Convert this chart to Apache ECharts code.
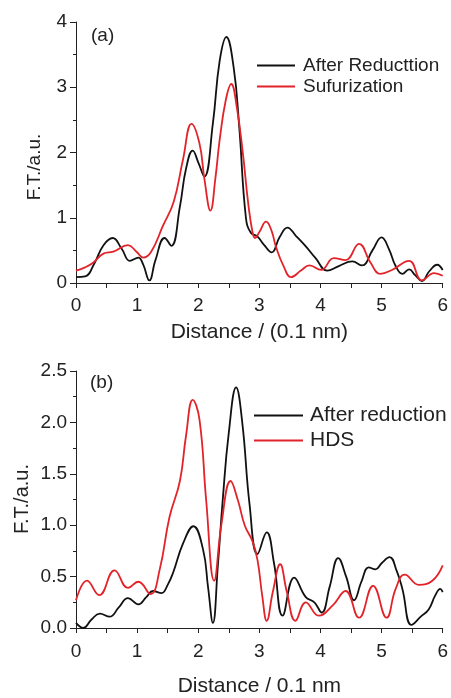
<!DOCTYPE html>
<html>
<head>
    <meta charset="utf-8">
    <title>F.T. curves</title>
    <script src="https://cdn.jsdelivr.net/npm/echarts@6/dist/echarts.min.js"></script>
    <style>
        html, body { margin: 0; padding: 0; background: #fff; }
        #main { width: 451px; height: 698px; }
    </style>
</head>
<body>
<div id="main"></div>
<script type="text/javascript">
    // 数据 (x = distance / 0.1 nm, y = F.T.)
    var xTicks = [0, 1, 2, 3, 4, 5, 6];
    var yTicksA = [0, 1, 2, 3, 4];
    var yTicksB = [0, 0.5, 1.0, 1.5, 2.0, 2.5];

    var reductionA = [[0,0.09],[0.15,0.1],[0.3,0.3],[0.45,0.58],[0.6,0.69],[0.75,0.52],[0.88,0.34],[1.02,0.39],[1.1,0.28],
        [1.2,0.04],[1.3,0.35],[1.45,0.69],[1.56,0.57],[1.7,1.17],[1.8,1.75],[1.91,2.03],[2.0,1.85],[2.1,1.63],[2.24,2.45],
        [2.35,3.4],[2.46,3.77],[2.58,3.3],[2.67,2.4],[2.78,1.0],[2.86,0.77],[2.97,0.71],[3.08,0.58],[3.2,0.47],[3.33,0.7],
        [3.46,0.85],[3.6,0.72],[3.76,0.56],[3.92,0.38],[4.11,0.19],[4.3,0.26],[4.52,0.33],[4.68,0.27],[4.85,0.5],[5.0,0.70],
        [5.12,0.52],[5.23,0.26],[5.34,0.14],[5.45,0.21],[5.55,0.12],[5.66,0.03],[5.78,0.18],[5.91,0.28],[6.0,0.20]];

    var sulfideA = [[0,0.19],[0.15,0.24],[0.28,0.31],[0.45,0.45],[0.61,0.48],[0.85,0.58],[0.99,0.48],[1.1,0.39],[1.23,0.48],
        [1.42,0.87],[1.6,1.25],[1.75,1.89],[1.89,2.44],[2.02,2.14],[2.1,1.6],[2.2,1.11],[2.28,1.6],[2.35,2.19],[2.45,2.8],
        [2.54,3.05],[2.63,2.7],[2.73,1.99],[2.82,1.2],[2.89,0.77],[2.93,0.69],[3.0,0.78],[3.11,0.94],[3.2,0.8],[3.27,0.56],
        [3.4,0.25],[3.52,0.09],[3.68,0.19],[3.82,0.27],[4.01,0.20],[4.22,0.38],[4.41,0.35],[4.63,0.60],[4.82,0.31],
        [4.98,0.14],[5.17,0.20],[5.45,0.34],[5.66,0.04],[5.86,0.15],[6.0,0.11]];

    var reductionB = [[0,0.05],[0.12,0.0],[0.25,0.08],[0.39,0.14],[0.55,0.11],[0.7,0.2],[0.85,0.29],[1.02,0.23],[1.15,0.3],
        [1.26,0.36],[1.40,0.34],[1.5,0.42],[1.59,0.54],[1.75,0.82],[1.92,0.99],[2.08,0.76],[2.16,0.4],[2.24,0.05],[2.32,0.6],
        [2.40,1.24],[2.5,1.9],[2.62,2.34],[2.72,2.0],[2.84,1.2],[2.97,0.72],[3.12,0.93],[3.24,0.63],[3.38,0.12],[3.57,0.49],
        [3.76,0.30],[3.90,0.25],[4.02,0.15],[4.15,0.4],[4.29,0.68],[4.42,0.5],[4.55,0.27],[4.67,0.45],[4.79,0.59],[4.90,0.57],
        [5.0,0.63],[5.13,0.69],[5.25,0.55],[5.34,0.38],[5.49,0.03],[5.64,0.11],[5.77,0.18],[5.88,0.32],[5.96,0.38],[6.0,0.35]];

    var hdsB = [[0,0.27],[0.18,0.46],[0.38,0.32],[0.63,0.56],[0.85,0.39],[1.02,0.45],[1.22,0.33],[1.37,0.57],[1.53,1.08],
        [1.70,1.43],[1.80,1.87],[1.91,2.22],[2.02,2.03],[2.13,1.24],[2.26,0.46],[2.38,1.01],[2.53,1.43],[2.65,1.24],
        [2.76,1.0],[2.89,0.84],[2.97,0.66],[3.05,0.3],[3.12,0.07],[3.22,0.35],[3.34,0.62],[3.45,0.35],[3.59,0.07],
        [3.76,0.25],[3.97,0.12],[4.20,0.22],[4.41,0.36],[4.63,0.10],[4.86,0.41],[5.08,0.10],[5.23,0.38],[5.38,0.52],
        [5.61,0.42],[5.83,0.46],[6.0,0.61]];

    var font = 'Liberation Sans, Arial, Helvetica, sans-serif';
    var ink = '#222';
    var black = '#111';
    var red = '#e2232a';

    function xAxisFor(gridIndex, name, labelMargin, nameGap) {
        return {
            type: 'value', gridIndex: gridIndex, min: 0, max: 6, interval: 1,
            name: name, nameLocation: 'middle', nameGap: nameGap,
            nameTextStyle: { fontFamily: font, fontSize: 21, color: ink },
            axisLine: { show: true, lineStyle: { color: ink, width: 1 } },
            axisTick: { show: true, inside: false, length: 5, lineStyle: { color: ink } },
            minorTick: { show: true, splitNumber: 2, length: 5, lineStyle: { color: ink } },
            axisLabel: {
                margin: labelMargin, fontFamily: font, fontSize: 19, color: ink,
                formatter: function (v) { return xTicks.indexOf(v) >= 0 ? String(v) : ''; }
            },
            splitLine: { show: false }
        };
    }

    function yAxisFor(gridIndex, max, interval, ticks, digits) {
        return {
            type: 'value', gridIndex: gridIndex, min: 0, max: max, interval: interval,
            axisLine: { show: true, lineStyle: { color: ink, width: 1 } },
            axisTick: { show: true, inside: false, length: 6, lineStyle: { color: ink } },
            minorTick: { show: true, splitNumber: 2, length: 3, lineStyle: { color: ink } },
            axisLabel: {
                margin: 9, fontFamily: font, fontSize: 19, color: ink,
                formatter: function (v) { return ticks.indexOf(v) >= 0 ? v.toFixed(digits) : ''; }
            },
            splitLine: { show: false }
        };
    }

    function lineSeries(name, data, color, idx) {
        return {
            name: name, type: 'line', data: data, xAxisIndex: idx, yAxisIndex: idx,
            smooth: 0.45, symbol: 'none', clip: true,
            lineStyle: { color: color, width: 1.8 }, itemStyle: { color: color }
        };
    }

    var myChart = echarts.init(document.getElementById('main'), null, { renderer: 'canvas' });
    var option = {
        backgroundColor: '#fff',
        animation: false,
        grid: [
            { left: 76, top: 22, width: 368, height: 261 },
            { left: 76, top: 371, width: 368, height: 261 }
        ],
        xAxis: [
            xAxisFor(0, 'Distance / (0.1 nm)', 13, 39),
            xAxisFor(1, 'Distance / 0.1 nm', 14, 48)
        ],
        yAxis: [
            yAxisFor(0, 4, 1, yTicksA, 0),
            yAxisFor(1, 2.5, 0.5, yTicksB, 1)
        ],
        legend: [
            {
                left: 257, top: 56, orient: 'vertical', padding: 0,
                icon: 'rect', itemWidth: 38, itemHeight: 2, itemGap: 2,
                textStyle: { fontFamily: font, fontSize: 19, color: ink, padding: [0, 0, 0, 3] },
                data: ['After Reducttion', 'Sufurization']
            },
            {
                left: 254, top: 405, orient: 'vertical', padding: 0,
                icon: 'rect', itemWidth: 49, itemHeight: 2, itemGap: 4,
                textStyle: { fontFamily: font, fontSize: 21, color: ink, padding: [0, 0, 0, 2] },
                data: ['After reduction', 'HDS']
            }
        ],
        graphic: [
            { type: 'text', left: 91, top: 26, style: { text: '(a)', font: '19px ' + font, fill: ink } },
            { type: 'text', left: 90, top: 373, style: { text: '(b)', font: '19px ' + font, fill: ink } },
            { type: 'text', x: 35, y: 167, rotation: Math.PI / 2,
              style: { text: 'F.T./a.u.', font: '19px ' + font, fill: ink, align: 'center', verticalAlign: 'middle' } },
            { type: 'text', x: 22, y: 499, rotation: Math.PI / 2,
              style: { text: 'F.T./a.u.', font: '20px ' + font, fill: ink, align: 'center', verticalAlign: 'middle' } }
        ],
        series: [
            lineSeries('After Reducttion', reductionA, black, 0),
            lineSeries('Sufurization', sulfideA, red, 0),
            lineSeries('After reduction', reductionB, black, 1),
            lineSeries('HDS', hdsB, red, 1)
        ]
    };
    myChart.setOption(option);
</script>
</body>
</html>
